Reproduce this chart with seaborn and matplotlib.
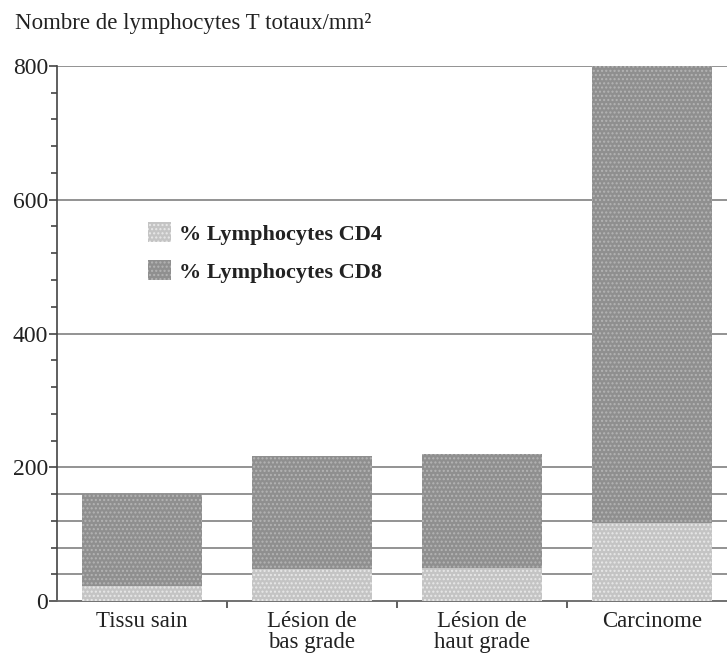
import matplotlib
matplotlib.use("Agg")
import matplotlib.pyplot as plt
import seaborn as sns
import pandas as pd
from matplotlib.patches import Patch
from matplotlib.ticker import MultipleLocator, FixedLocator

categories = ["Tissu sain", "Lésion de\nbas grade", "Lésion de\nhaut grade", "Carcinome"]
cd4_values = [22, 48, 49, 117]
total_values = [160, 217, 220, 800]
grid_levels = [40, 80, 120, 160, 200, 400, 600, 800]
y_major = [0, 200, 400, 600, 800]
legend_labels = ["% Lymphocytes CD4", "% Lymphocytes CD8"]
ylabel_text = "Nombre de lymphocytes T totaux/mm²"

sns.set_theme(style="white")
plt.rcParams["font.family"] = ["Liberation Serif", "DejaVu Serif"]
plt.rcParams["hatch.linewidth"] = 1.0

df = pd.DataFrame({"cat": categories, "cd4": cd4_values, "total": total_values})

fig = plt.figure(figsize=(7.27, 6.59), dpi=100)
ax = fig.add_axes([57/727, 1-601/659, (737-57)/727, (601-66)/659])

cd8_color = "#8f8f8f"
cd8_hatch = "#b4b4b4"
cd4_color = "#c4c4c4"
cd4_hatch = "#e8e8e8"
text_color = "#222222"

for g in grid_levels:
    ax.axhline(g, color="#8a8a8a", lw=1.3, zorder=0)

sns.barplot(data=df, x="cat", y="total", color=cd8_color, width=0.71,
            saturation=1, ax=ax, zorder=2)
n = len(ax.patches)
sns.barplot(data=df, x="cat", y="cd4", color=cd4_color, width=0.71,
            saturation=1, ax=ax, zorder=3)
for i, p in enumerate(ax.patches):
    p.set_hatch("....")
    p.set_edgecolor(cd8_hatch if i < n else cd4_hatch)
    p.set_linewidth(0)

ax.set_xlim(-0.5, 3.5)
ax.set_ylim(0, 800)
ax.yaxis.set_major_locator(FixedLocator(y_major))
ax.yaxis.set_minor_locator(MultipleLocator(40))
ax.xaxis.set_minor_locator(FixedLocator([0.5, 1.5, 2.5]))
ax.tick_params(axis="y", which="major", direction="out", length=6, width=1.2,
               color="#444444", labelsize=17, left=True, pad=0.5)
ax.tick_params(axis="y", which="minor", direction="out", length=4, width=1.2,
               color="#444444", left=True)
ax.tick_params(axis="x", which="major", length=0, labelsize=16.5, pad=7)
ax.tick_params(axis="x", which="minor", direction="out", length=5, width=1.2,
               color="#444444", bottom=True)
ax.set_xlabel("")
ax.set_ylabel("")
for lab in ax.get_xticklabels() + ax.get_yticklabels():
    lab.set_color(text_color)
for lab in ax.get_xticklabels():
    lab.set_linespacing(1.0)

for s in ["top", "right"]:
    ax.spines[s].set_visible(False)
ax.spines["left"].set_color("#444444")
ax.spines["left"].set_linewidth(1.2)
ax.spines["bottom"].set_color("#666666")
ax.spines["bottom"].set_linewidth(1.3)

handles = [Patch(facecolor=cd4_color, edgecolor=cd4_hatch, hatch="....", lw=0),
           Patch(facecolor=cd8_color, edgecolor=cd8_hatch, hatch="....", lw=0)]
leg = ax.legend(handles, legend_labels, loc="upper left",
                bbox_to_anchor=((137-57)/680, (601-211)/535), frameon=False,
                handlelength=1.05, handleheight=1.0, handletextpad=0.35,
                labelspacing=0.7, borderpad=0,
                prop={"family": ["Liberation Serif"], "weight": "bold", "size": 16})
for t in leg.get_texts():
    t.set_color(text_color)

fig.text(15/727, 1-24/659, ylabel_text, ha="left", va="center", fontsize=16.5,
         color=text_color)

fig.savefig("out.png", dpi=100)
